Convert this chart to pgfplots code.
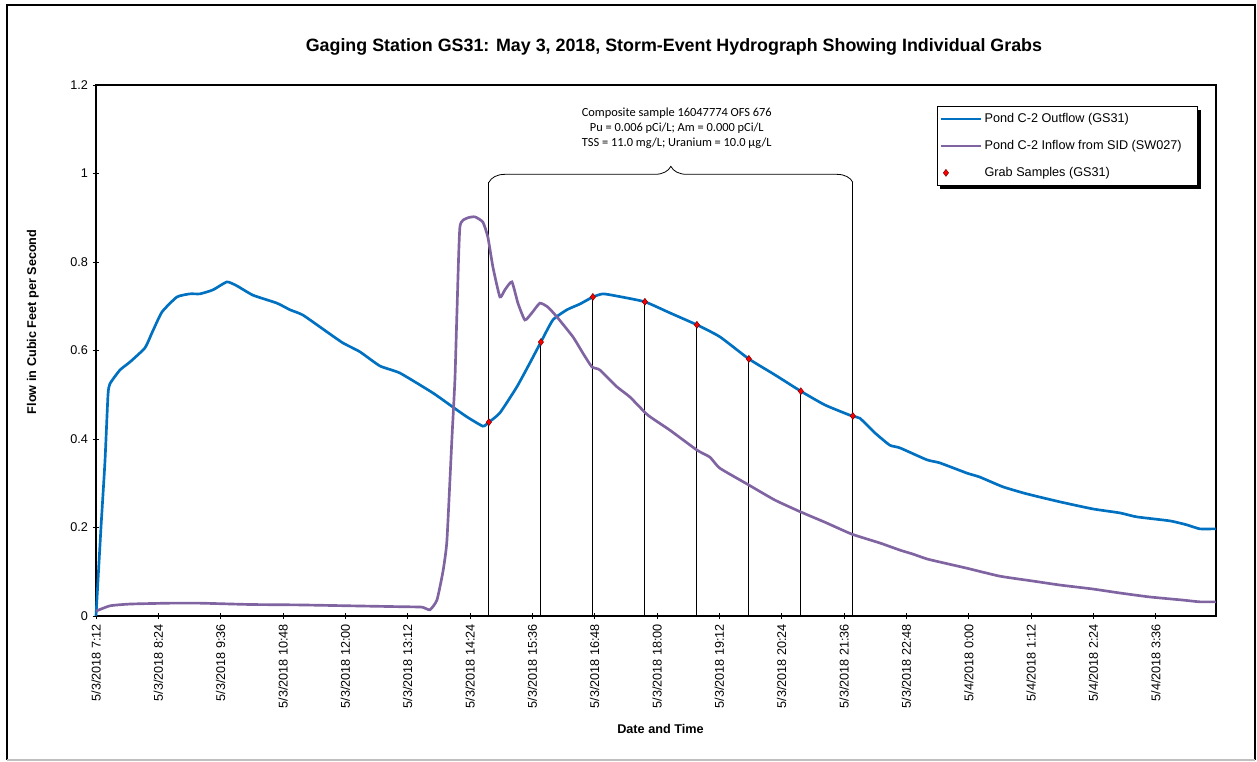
\documentclass[border=0pt]{standalone}
\usepackage{pgfplots}
\pgfplotsset{compat=1.18}
\usepackage{fontspec}
\setmainfont{Liberation Sans}
\newfontfamily\carlito{Carlito}
\usetikzlibrary{decorations.pathreplacing}
\definecolor{outblue}{RGB}{0,112,192}
\definecolor{inpurple}{RGB}{128,100,162}
\pgfplotsset{markleg/.style={legend image code/.code={\draw[##1] plot coordinates {(4pt,0pt)};}}}
\begin{document}
\begin{tikzpicture}
\useasboundingbox (-72pt,-109.5pt) rectangle (870.75pt,462pt);
\draw[line width=1.2pt] (-66.75pt,-108pt) -- (-66.75pt,458.25pt) -- (869.25pt,458.25pt) -- (869.25pt,-108pt);
\draw[gray!50, line width=1pt] (-66.75pt,-108pt) -- (869.25pt,-108pt);
\begin{axis}[
  at={(0pt,0pt)}, anchor=south west,
  scale only axis, width=840pt, height=398.25pt,
  xmin=0, xmax=21.56, ymin=0, ymax=1.2,
  xtick={0,1.2,2.4,3.6,4.8,6,7.2,8.4,9.6,10.8,12,13.2,14.4,15.6,16.8,18,19.2,20.4},
  xticklabels={5/3/2018 7:12,5/3/2018 8:24,5/3/2018 9:36,5/3/2018 10:48,5/3/2018 12:00,5/3/2018 13:12,5/3/2018 14:24,5/3/2018 15:36,5/3/2018 16:48,5/3/2018 18:00,5/3/2018 19:12,5/3/2018 20:24,5/3/2018 21:36,5/3/2018 22:48,5/4/2018 0:00,5/4/2018 1:12,5/4/2018 2:24,5/4/2018 3:36},
  ytick={0,0.2,0.4,0.6,0.8,1,1.2},
  yticklabels={0,0.2,0.4,0.6,0.8,1,1.2},
  tick pos=left,
  tick align=center, major tick length=5pt,
  tick style={black, line width=0.6pt},
  axis line style={line width=0.9pt},
  ticklabel style={font=\fontsize{9.5}{11}\selectfont},
  xticklabel style={rotate=90, anchor=east},
  yticklabel style={anchor=east},
  xlabel={Date and Time},
  ylabel={Flow in Cubic Feet per Second},
  xlabel style={at={(axis description cs:0.504,0)}, anchor=center, yshift=-85pt, font=\bfseries\fontsize{9.5}{11}\selectfont},
  ylabel style={at={(axis description cs:-0.0563,0.554)}, anchor=center, font=\bfseries\fontsize{9.5}{11}\selectfont},
  title={Gaging Station GS31: May 3, 2018, Storm-Event Hydrograph Showing Individual Grabs},
  title style={at={(axis description cs:0.516,1)}, anchor=center, yshift=22.75pt, font=\bfseries\fontsize{13.4}{16}\selectfont},
  legend style={at={(rel axis cs:0.7509,0.9586)}, anchor=north west, draw=none, fill=none,
    font=\fontsize{9.5}{11}\selectfont, row sep=7.75pt, inner xsep=1.5pt, inner ysep=2.75pt},
  legend cell align=left,
  legend image code/.code={\draw[#1] (0pt,0pt) -- (30pt,0pt);},
  clip=false,
]
\addplot[ycomb, black, line width=0.6pt, forget plot] coordinates {
(7.563,0.98)(8.564,0.619)(9.565,0.721)(10.566,0.71)(11.567,0.658)(12.567,0.581)(13.568,0.508)(14.569,0.98)};
\addplot[outblue, line width=2pt, smooth, tension=0.3] coordinates {
(0,0)(0.096,0.2)(0.173,0.35)(0.231,0.5)(0.269,0.525)(0.462,0.556)(0.654,0.574)(0.943,0.606)(1.078,0.64)(1.270,0.687)(1.559,0.721)(1.809,0.728)(2.001,0.728)(2.252,0.737)(2.521,0.755)(2.714,0.746)(3.022,0.725)(3.483,0.707)(3.734,0.692)(3.984,0.68)(4.446,0.642)(4.754,0.617)(5.081,0.597)(5.466,0.565)(5.851,0.549)(6.486,0.504)(6.871,0.472)(7.140,0.45)(7.448,0.429)(7.563,0.438)(7.775,0.459)(8.103,0.518)(8.353,0.572)(8.564,0.619)(8.795,0.669)(9.065,0.692)(9.315,0.705)(9.565,0.721)(9.758,0.728)(10.027,0.723)(10.566,0.71)(11.047,0.685)(11.567,0.658)(12.009,0.631)(12.567,0.581)(13.068,0.545)(13.568,0.508)(14.030,0.477)(14.550,0.452)(14.704,0.447)(14.992,0.414)(15.281,0.386)(15.473,0.38)(15.993,0.353)(16.243,0.346)(16.763,0.323)(17.013,0.314)(17.456,0.292)(17.917,0.276)(18.553,0.258)(19.188,0.242)(19.707,0.233)(20.035,0.224)(20.670,0.215)(20.997,0.206)(21.247,0.197)(21.555,0.197)};
\addlegendentry{Pond C-2 Outflow (GS31)}
\addplot[inpurple, line width=2pt, smooth, tension=0.3] coordinates {
(0,0.011)(0.269,0.023)(0.654,0.027)(1.424,0.029)(2.001,0.029)(2.964,0.026)(3.926,0.025)(4.888,0.023)(5.851,0.021)(6.274,0.020)(6.428,0.014)(6.563,0.036)(6.678,0.10)(6.755,0.17)(6.851,0.40)(6.909,0.533)(6.948,0.685)(7.005,0.879)(7.140,0.899)(7.294,0.902)(7.448,0.89)(7.544,0.856)(7.640,0.789)(7.775,0.721)(7.871,0.737)(8.006,0.755)(8.122,0.707)(8.256,0.669)(8.391,0.685)(8.545,0.707)(8.699,0.698)(8.872,0.676)(9.180,0.631)(9.373,0.594)(9.546,0.563)(9.700,0.556)(10.027,0.518)(10.277,0.495)(10.623,0.454)(11.047,0.42)(11.567,0.375)(11.817,0.359)(12.009,0.334)(12.567,0.296)(13.068,0.262)(13.568,0.235)(14.030,0.212)(14.550,0.185)(15.089,0.165)(15.473,0.149)(15.723,0.14)(15.993,0.129)(16.243,0.122)(16.763,0.108)(17.398,0.09)(18.033,0.079)(18.553,0.07)(19.188,0.061)(19.707,0.052)(20.285,0.043)(20.920,0.036)(21.247,0.032)(21.555,0.032)};
\addlegendentry{Pond C-2 Inflow from SID (SW027)}
\addplot[only marks, mark=diamond*, mark size=2.6pt, mark options={fill=red, draw=red!50!black, line width=0.4pt}, markleg] coordinates {
(7.563,0.438)(8.564,0.619)(9.565,0.721)(10.566,0.71)(11.567,0.658)(12.567,0.581)(13.568,0.508)(14.569,0.452)};
\addlegendentry{Grab Samples (GS31)}
\draw[decorate, decoration={brace, amplitude=12pt}, line width=0.6pt] (axis cs:7.563,0.98) -- (axis cs:14.569,0.98);
\node[align=center, font=\carlito\fontsize{9.3}{11.25}\selectfont] at (axis cs:11.18,1.103) {Composite sample 16047774 OFS 676\\Pu = 0.006 pCi/L; Am = 0.000 pCi/L\\TSS = 11.0 mg/L; Uranium = 10.0 µg/L};
\fill[black] (rel axis cs:0.7536,0.9529) rectangle (rel axis cs:0.9866,0.8041);
\filldraw[fill=white, draw=black, line width=0.75pt] (rel axis cs:0.7509,0.9586) rectangle (rel axis cs:0.9839,0.8098);
\end{axis}
\end{tikzpicture}
\end{document}
